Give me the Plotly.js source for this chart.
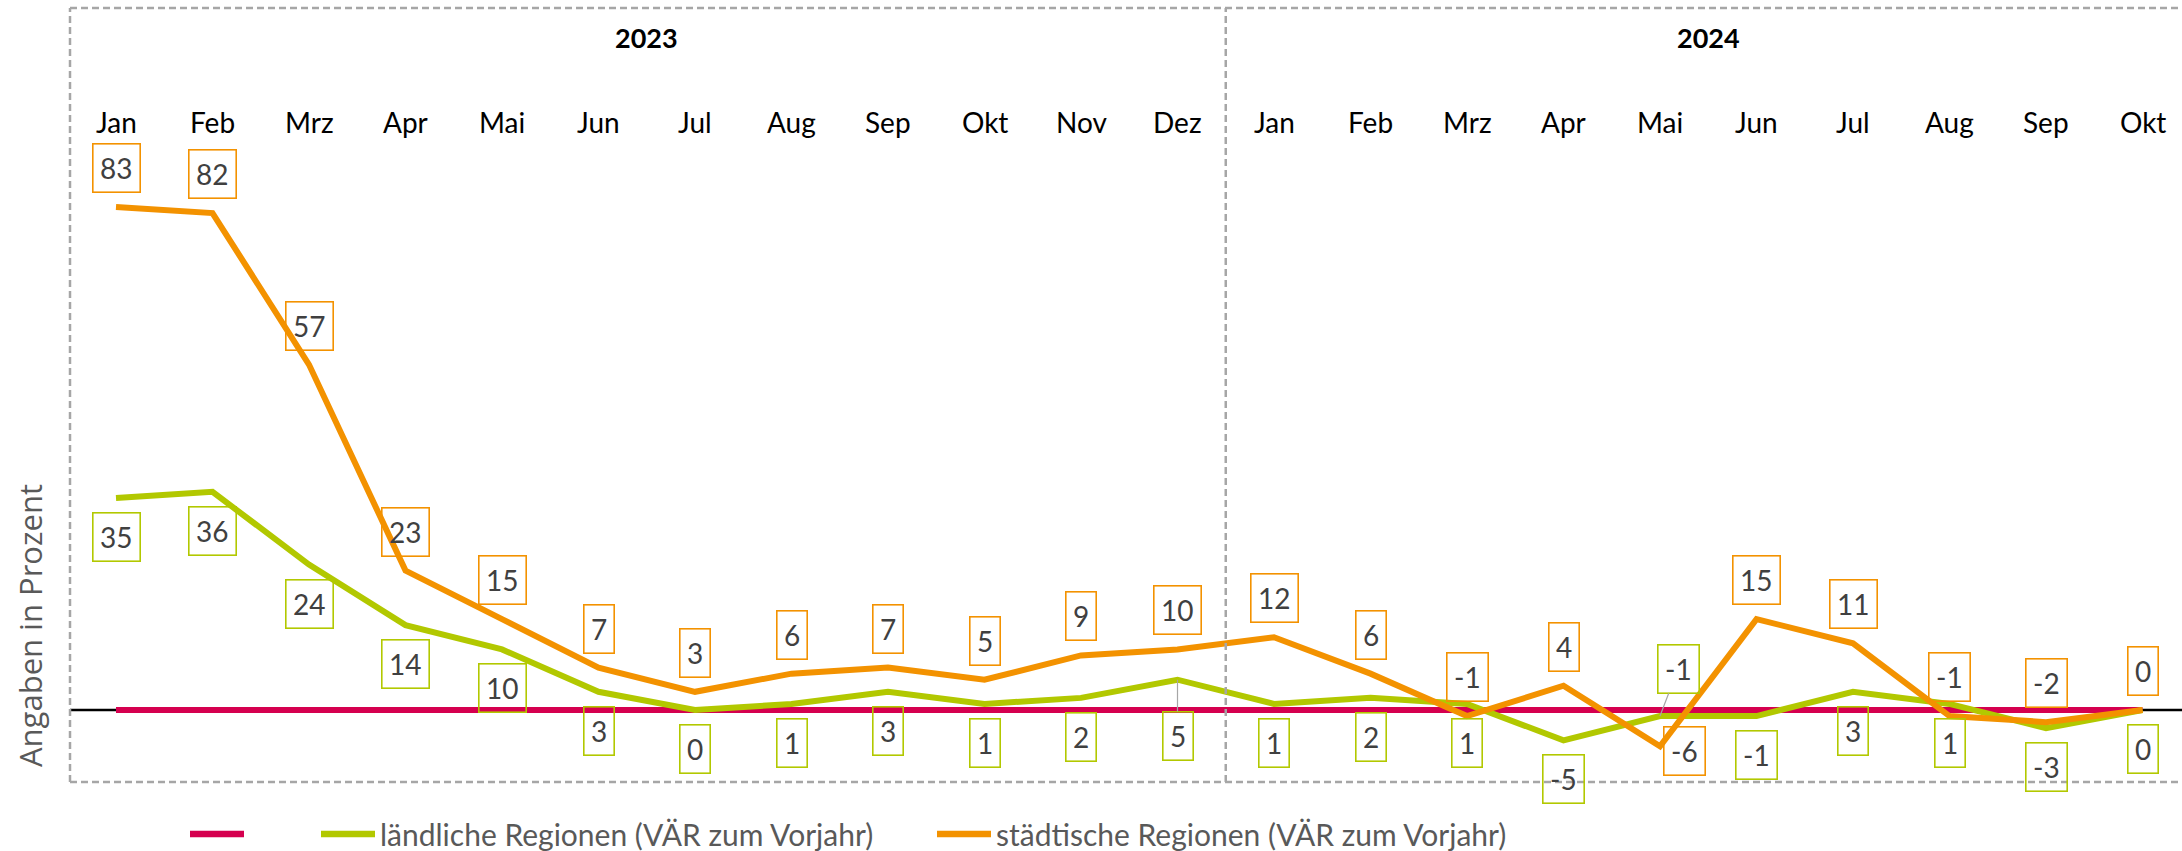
<!DOCTYPE html>
<html>
<head>
<meta charset="utf-8">
<script src="https://cdn.plot.ly/plotly-3.0.1.min.js"></script>
<style>
  html, body { margin: 0; padding: 0; background: #ffffff; overflow: hidden; }
  #chart { width: 2182px; height: 851px; }
</style>
</head>
<body>
<div id="chart"></div>
<script>
// ---------------- DATA ----------------
const months = ['Jan','Feb','Mrz','Apr','Mai','Jun','Jul','Aug','Sep','Okt','Nov','Dez',
                'Jan','Feb','Mrz','Apr','Mai','Jun','Jul','Aug','Sep','Okt'];
const years = ['2023', '2024'];
const yearFirstMonth = [0, 12];          // index of first month of each year
const yearMonthCount = [12, 10];         // months shown per year
const laendlich = [35, 36, 24, 14, 10, 3, 0, 1, 3, 1, 2, 5,
                   1, 2, 1, -5, -1, -1, 3, 1, -3, 0];
const staedtisch = [83, 82, 57, 23, 15, 7, 3, 6, 7, 5, 9, 10,
                    12, 6, -1, 4, -6, 15, 11, -1, -2, 0];
const nulllinie = [0, 0, 0, 0, 0, 0, 0, 0, 0, 0, 0, 0,
                   0, 0, 0, 0, 0, 0, 0, 0, 0, 0];
const seriesNames = ['', 'ländliche Regionen (VÄR zum Vorjahr)', 'städtische Regionen (VÄR zum Vorjahr)'];
const yTitle = 'Angaben in Prozent';

// ---------------- STYLE / GEOMETRY ----------------
const W = 2182, H = 851;
const M = { l: 70, r: 0, t: 8, b: 69 };
const plotW = W - M.l - M.r, plotH = H - M.t - M.b;
const colPink = '#D5004F', colGreen = '#B2C800', colOrange = '#F39200';
const frameCol = '#A6A6A6';
const labelFont = 'Lato, "Open Sans", sans-serif';
const slotPx = 96.5, firstPx = 116;                    // pixel pitch of months
const xRange = [(M.l - firstPx) / slotPx, (W - M.r - firstPx) / slotPx];
const zeroPx = 710, pxPerUnit = 6.06;
const yRange = [-(H - M.b - zeroPx) / pxPerUnit, (zeroPx - M.t) / pxPerUnit];
const px2paperX = p => (p - M.l) / plotW;
const px2paperY = p => (H - M.b - p) / plotH;

const xs = months.map((_, i) => i);

// default label offsets (pixels) and special placements
const offsetDefault = { green: { ax: 0, ay: 39 }, orange: { ax: 0, ay: -39 } };
const offsetSpecial = {
  green: { 11: { ax: 0, ay: 56, leader: true }, 16: { ax: 18, ay: -47, leader: true } },
  orange: { 16: { ax: 24, ay: 5 } }
};

const traces = [
  { x: xs, y: nulllinie, name: seriesNames[0], type: 'scatter', mode: 'lines',
    line: { color: colPink, width: 6 }, cliponaxis: false, hoverinfo: 'skip' },
  { x: xs, y: laendlich, name: seriesNames[1], type: 'scatter', mode: 'lines',
    line: { color: colGreen, width: 6 }, cliponaxis: false },
  { x: xs, y: staedtisch, name: seriesNames[2], type: 'scatter', mode: 'lines',
    line: { color: colOrange, width: 6 }, cliponaxis: false }
];

const annotations = [];

// data labels
function addLabels(values, key, color) {
  values.forEach((v, i) => {
    const sp = (offsetSpecial[key] && offsetSpecial[key][i]) || offsetDefault[key];
    annotations.push({
      x: i, y: v, xref: 'x', yref: 'y',
      text: String(v),
      showarrow: true, arrowhead: 0, arrowwidth: 1.2,
      arrowcolor: sp.leader ? '#A6A6A6' : 'rgba(0,0,0,0)',
      ax: sp.ax, ay: sp.ay,
      font: { family: labelFont, size: 28, color: '#404040' },
      bordercolor: color, borderwidth: 1.6, borderpad: 6.5,
      bgcolor: 'rgba(0,0,0,0)'
    });
  });
}
addLabels(laendlich, 'green', colGreen);
addLabels(staedtisch, 'orange', colOrange);

// month labels (top category axis)
months.forEach((m, i) => {
  annotations.push({
    x: i, xref: 'x', y: px2paperY(122), yref: 'paper', yanchor: 'middle',
    text: m, showarrow: false,
    font: { family: labelFont, size: 28, color: '#000000' }
  });
});
// year labels
years.forEach((yr, k) => {
  const c = yearFirstMonth[k] + (yearMonthCount[k] - 1) / 2;
  annotations.push({
    x: c, xref: 'x', y: px2paperY(37), yref: 'paper', yanchor: 'middle',
    text: '<b>' + yr + '</b>', showarrow: false,
    font: { family: labelFont, size: 27, color: '#000000' }
  });
});

// y title
annotations.push({
  x: px2paperX(30), xref: 'paper', y: px2paperY(626), yref: 'paper',
  xanchor: 'center', yanchor: 'middle', textangle: -90,
  text: yTitle, showarrow: false,
  font: { family: '"Open Sans", sans-serif', size: 31, color: '#595959' }
});

// legend (custom)
const legendY = px2paperY(834);
const legendItems = [
  { x0: 190, x1: 244, color: colPink, name: seriesNames[0] },
  { x0: 321, x1: 375, color: colGreen, name: seriesNames[1] },
  { x0: 937, x1: 991, color: colOrange, name: seriesNames[2] }
];
const shapes = [];
legendItems.forEach(it => {
  shapes.push({ type: 'line', xref: 'paper', yref: 'paper',
    x0: px2paperX(it.x0), x1: px2paperX(it.x1), y0: legendY, y1: legendY,
    line: { color: it.color, width: 6.5 } });
  if (it.name) {
    annotations.push({
      x: px2paperX(it.x1 + 3), xref: 'paper', y: legendY, yref: 'paper',
      xanchor: 'left', yanchor: 'middle', text: it.name, showarrow: false,
      font: { family: labelFont, size: 30, color: '#595959' }
    });
  }
});

// zero axis line (black) below traces
shapes.push({ type: 'line', xref: 'paper', yref: 'y', x0: 0, x1: 1, y0: 0, y1: 0,
  layer: 'below', line: { color: '#000000', width: 2.5 } });

// dashed frame
const dashLine = { color: frameCol, width: 2.5, dash: '7px,4px' };
shapes.push({ type: 'line', xref: 'paper', yref: 'paper', x0: 0, x1: 1, y0: 1, y1: 1, line: dashLine });
shapes.push({ type: 'line', xref: 'paper', yref: 'paper', x0: 0, x1: 1, y0: 0, y1: 0, line: dashLine });
shapes.push({ type: 'line', xref: 'paper', yref: 'paper', x0: 0, x1: 0, y0: 0, y1: 1, line: dashLine });
shapes.push({ type: 'line', xref: 'x', yref: 'paper', x0: yearFirstMonth[1] - 0.5, x1: yearFirstMonth[1] - 0.5,
  y0: 0, y1: 1, line: dashLine });

const layout = {
  width: W, height: H,
  margin: M,
  paper_bgcolor: '#ffffff', plot_bgcolor: '#ffffff',
  showlegend: false,
  xaxis: { range: xRange, showgrid: false, zeroline: false, showticklabels: false,
           showline: false, ticks: '', fixedrange: true },
  yaxis: { range: yRange, showgrid: false, zeroline: false, showticklabels: false,
           showline: false, ticks: '', fixedrange: true },
  annotations: annotations,
  shapes: shapes,
  font: { family: labelFont }
};

Plotly.newPlot('chart', traces, layout, { displayModeBar: false, staticPlot: true });
</script>
</body>
</html>
